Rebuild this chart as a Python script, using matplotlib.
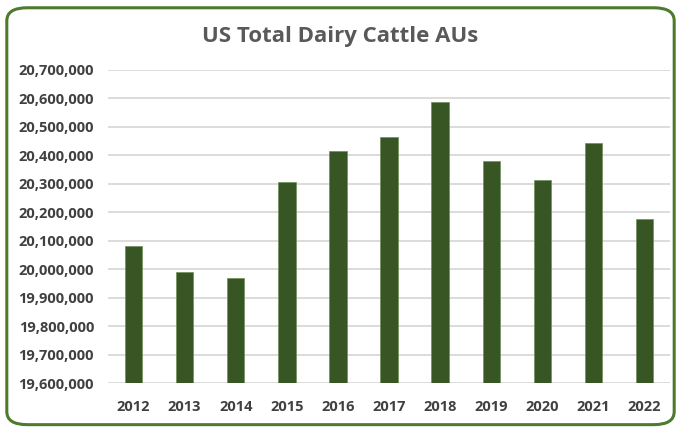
import matplotlib.pyplot as plt
from matplotlib.patches import FancyBboxPatch
from matplotlib.ticker import FuncFormatter

# US total dairy cattle animal units by year
years = ['2012', '2013', '2014', '2015', '2016', '2017',
         '2018', '2019', '2020', '2021', '2022']
animal_units = [20080000, 19991000, 19969000, 20306000, 20417000, 20465000,
                20588000, 20379000, 20313000, 20443000, 20176000]

bar_color = '#375623'
text_color = '#404040'

fig = plt.figure(figsize=(6.81, 4.32), dpi=100)
ax = fig.add_axes([0.1586, 0.1134, 0.8254, 0.7246])

ax.bar(years, animal_units, width=0.34, color=bar_color,
       edgecolor='#6f8f5a', linewidth=0.5, zorder=3)

ax.set_ylim(19600000, 20700000)
ax.set_yticks(range(19600000, 20700001, 100000))
ax.yaxis.set_major_formatter(FuncFormatter(lambda v, p: f'{int(v):,}'))
ax.set_xlim(-0.5, len(years) - 0.5)
ax.grid(axis='y', color='#d9d9d9', linewidth=1.3, zorder=0)

for s in ax.spines.values():
    s.set_visible(False)
ax.tick_params(length=0, pad=10, labelcolor=text_color)
for lbl in ax.get_yticklabels() + ax.get_xticklabels():
    lbl.set_fontsize(10.5)
    lbl.set_fontweight('bold')
    lbl.set_fontfamily('Open Sans')
ax.tick_params(axis='x', pad=12)

fig.text(0.5, 0.915, 'US Total Dairy Cattle AUs', ha='center', va='center',
         fontsize=16, color='#595959', fontfamily='Open Sans', fontweight='bold')

# rounded green frame around the chart
frame = FancyBboxPatch((0.01, 0.017), 0.98, 0.965,
                       boxstyle='round,pad=0,rounding_size=0.03',
                       transform=fig.transFigure, fill=False,
                       edgecolor='#4e7a2c', linewidth=2.2)
fig.patches.append(frame)

fig.savefig('out.png', dpi=100)
